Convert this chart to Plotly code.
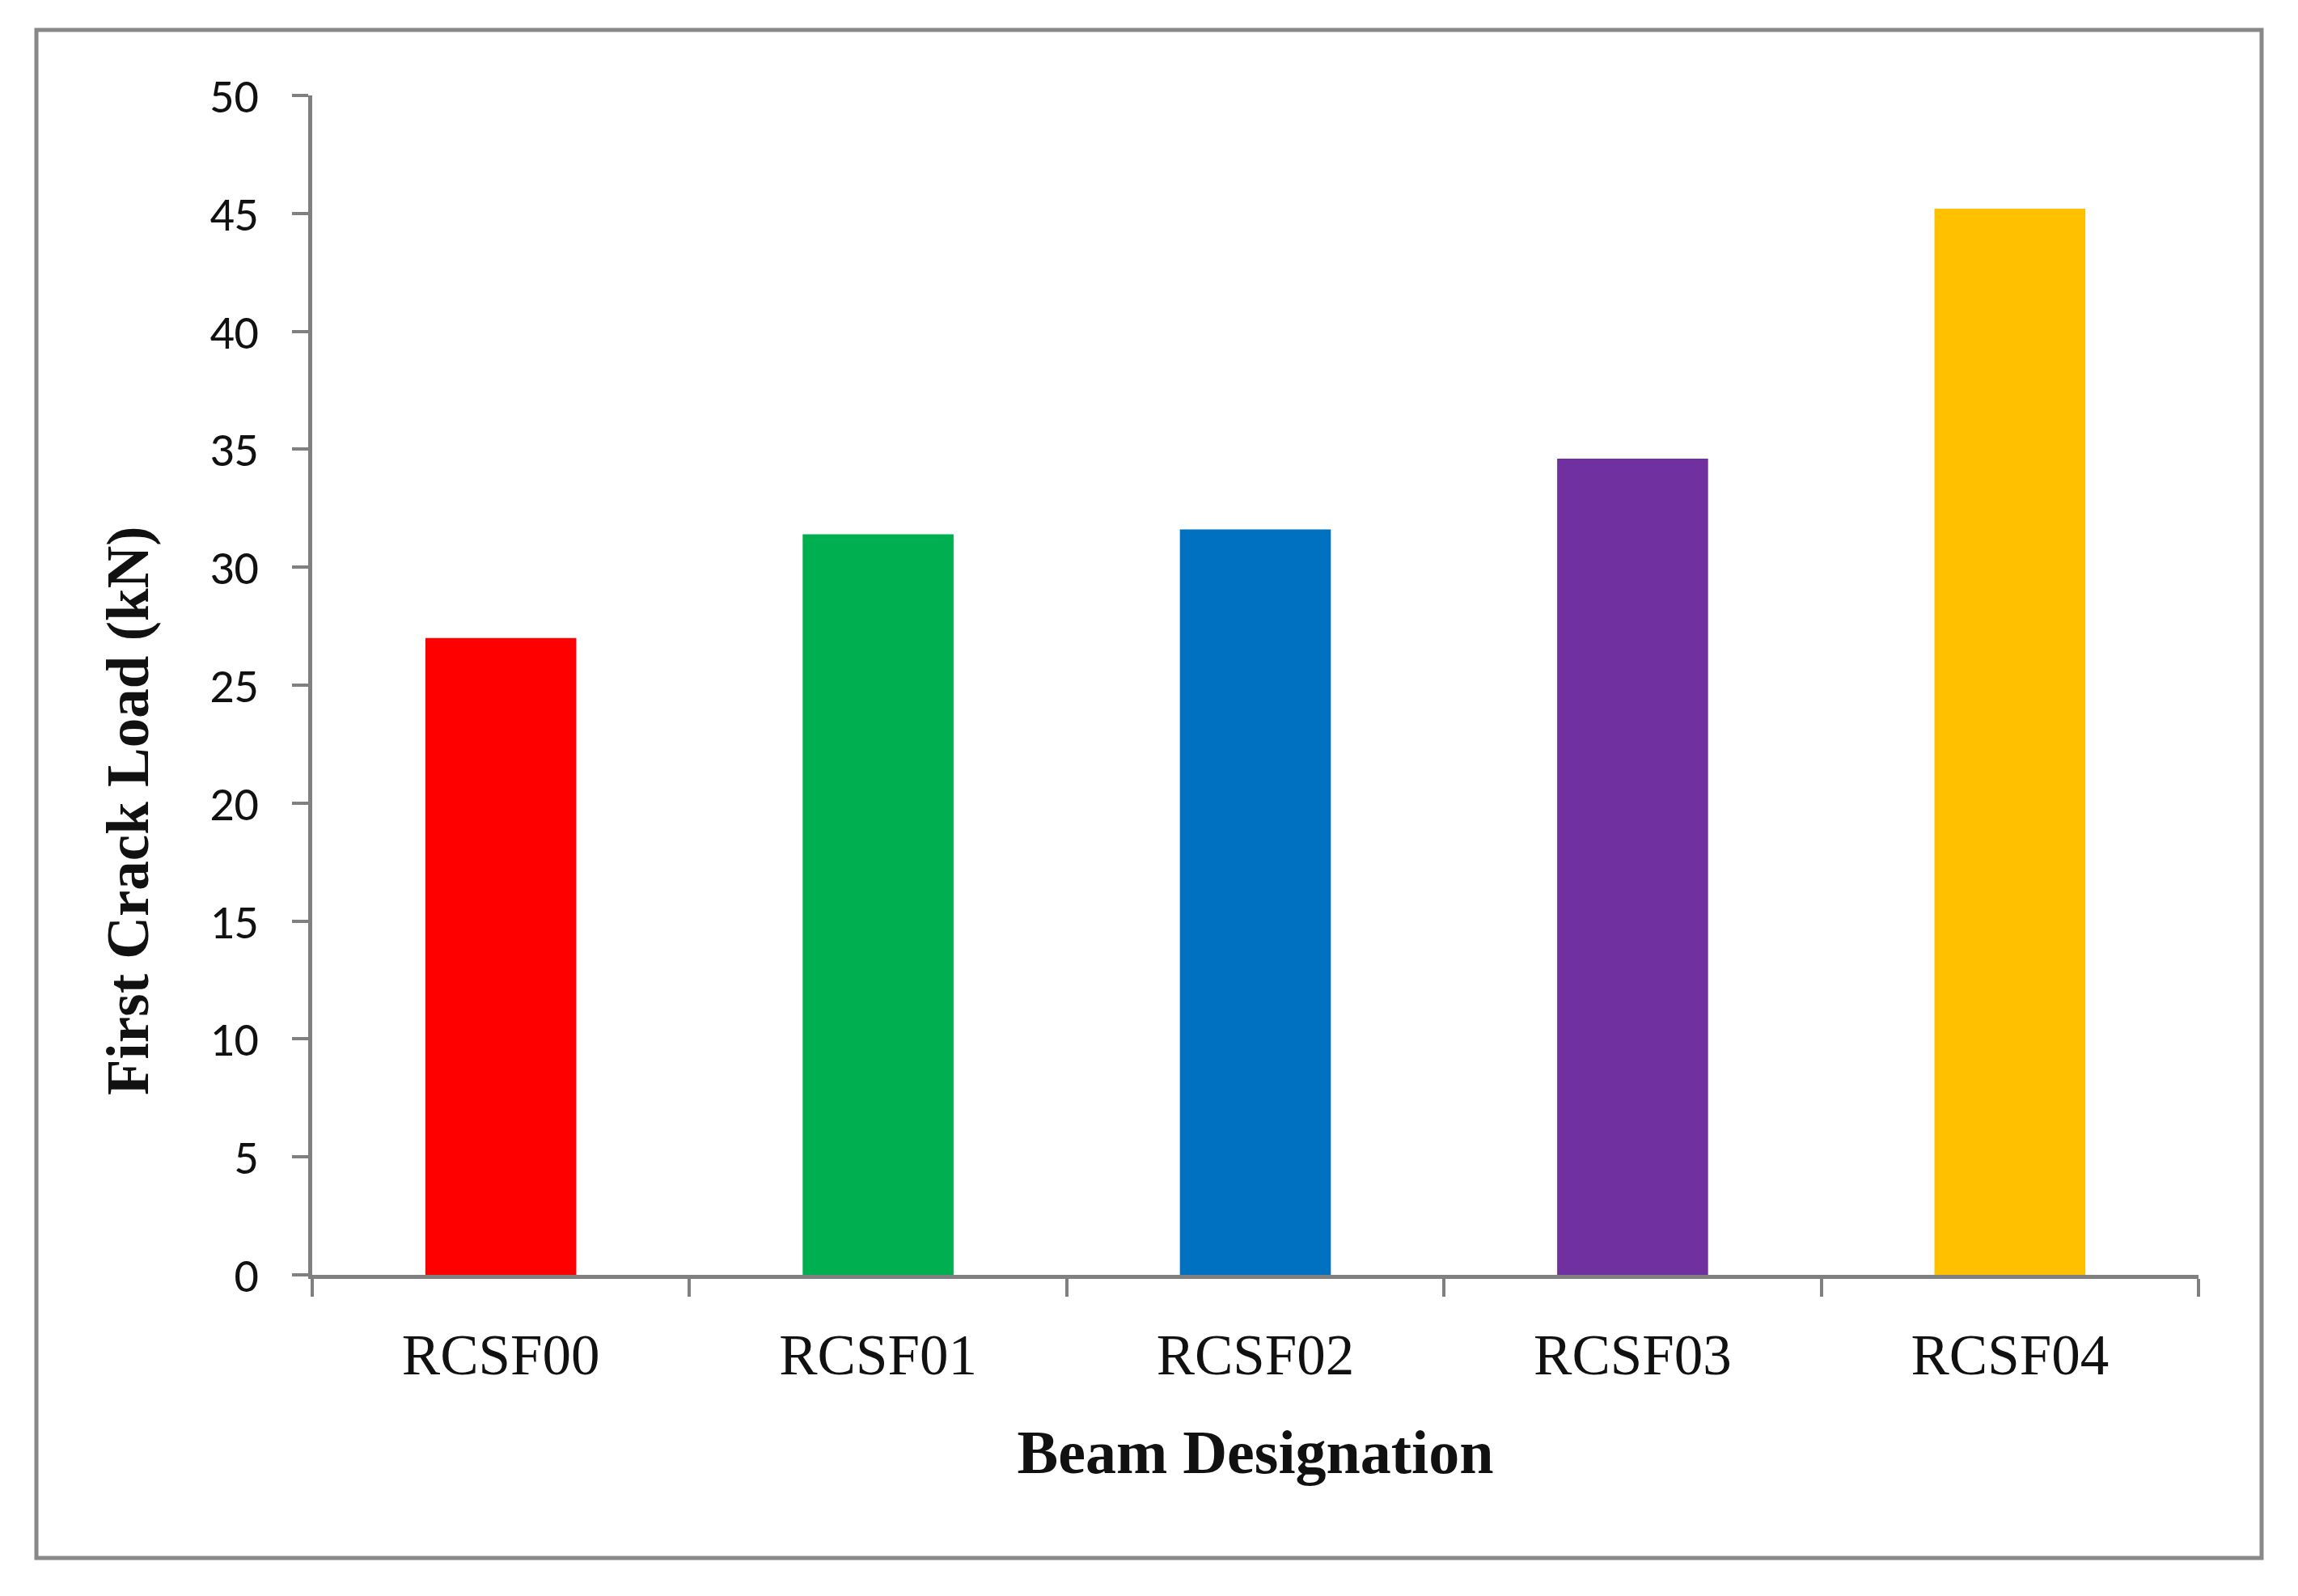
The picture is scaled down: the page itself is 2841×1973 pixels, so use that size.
import plotly.graph_objects as go

categories = ["RCSF00", "RCSF01", "RCSF02", "RCSF03", "RCSF04"]
first_crack_load = [27.0, 31.4, 31.6, 34.6, 45.2]
bar_colors = ["#FF0000", "#00B050", "#0070C0", "#7030A0", "#FFC000"]
y_ticks = [0, 5, 10, 15, 20, 25, 30, 35, 40, 45, 50]

W, H = 2841, 1973
OFF = 8  # default page body margin
L, R, T, B = 386 - OFF, 123 + OFF, 118 - OFF, 397 + OFF
pw, ph = W - L - R, H - T - B

def px_x(page_x):
    return (page_x - OFF - L) / pw

def px_y(page_y):
    return (H - B - (page_y - OFF)) / ph

fig = go.Figure(
    go.Bar(
        x=categories,
        y=first_crack_load,
        marker=dict(color=bar_colors, line=dict(width=0)),
        width=0.4,
    )
)

axis_col = "#808080"
serif = "Liberation Serif, DejaVu Serif, serif"
fig.update_layout(
    width=W,
    height=H,
    margin=dict(l=L, r=R, t=T, b=B),
    paper_bgcolor="white",
    plot_bgcolor="white",
    showlegend=False,
    xaxis=dict(
        showline=True,
        linecolor=axis_col,
        linewidth=5,
        ticks="outside",
        tickson="boundaries",
        ticklen=22,
        tickwidth=4,
        tickcolor=axis_col,
        showgrid=False,
        tickfont=dict(family=serif, size=71, color="#111111"),
        ticklabelstandoff=33,
        title=dict(
            text="<b>Beam Designation</b>",
            font=dict(family=serif, size=76, color="#111111"),
            standoff=56,
        ),
    ),
    yaxis=dict(
        range=[0, 50],
        tickvals=y_ticks,
        showline=True,
        linecolor=axis_col,
        linewidth=5,
        ticks="outside",
        ticklen=20,
        tickwidth=4,
        tickcolor=axis_col,
        showgrid=False,
        zeroline=False,
        tickfont=dict(family="Carlito, Calibri, Liberation Sans Narrow, Liberation Sans, sans-serif", size=60, color="#111111"),
        ticklabelstandoff=29,
    ),
    annotations=[
        dict(
            text="<b>First Crack Load (kN)</b>",
            xref="paper", yref="paper",
            x=px_x(158), y=px_y(1002),
            xanchor="center", yanchor="middle",
            textangle=-90,
            showarrow=False,
            font=dict(family=serif, size=73, color="#111111"),
        )
    ],
)

fig.add_shape(
    type="rect",
    xref="paper", yref="paper",
    x0=px_x(45), x1=px_x(2796),
    y0=px_y(1926), y1=px_y(37),
    line=dict(color="#888888", width=5),
    fillcolor="rgba(0,0,0,0)",
    layer="below",
)

fig.write_html("out.html")
